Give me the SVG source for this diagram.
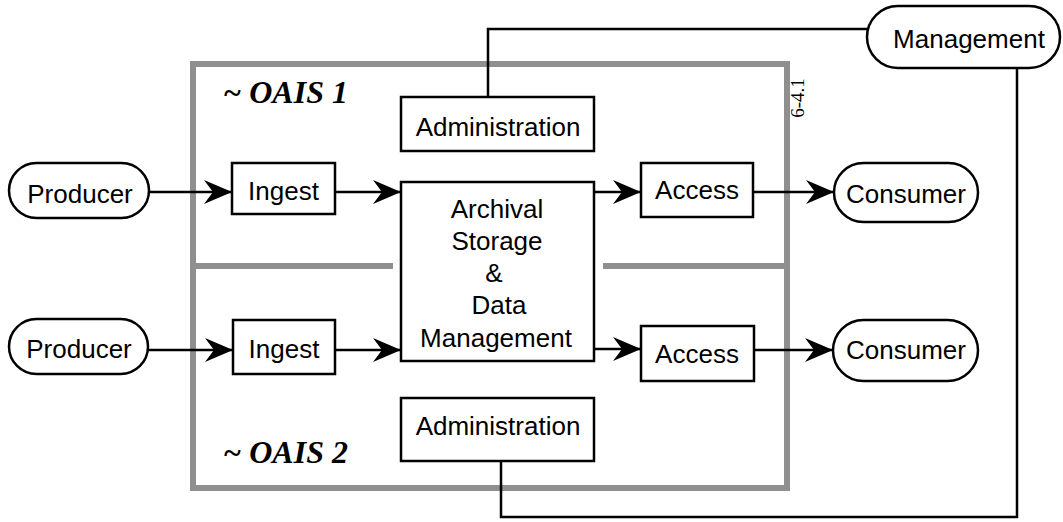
<svg xmlns="http://www.w3.org/2000/svg" width="1063" height="522" viewBox="0 0 1063 522">
<defs>
<style>
.box{fill:#fff;stroke:#000;stroke-width:2.5}
.t{font-family:"Liberation Sans",Arial,sans-serif;font-size:26px;fill:#000;text-anchor:middle}
.oais{font-family:"Liberation Serif","Times New Roman",serif;font-size:32px;font-weight:bold;font-style:italic;fill:#000}
.frame{fill:none;stroke:#8f8f8f;stroke-width:6}
.c{fill:none;stroke:#000;stroke-width:2.5}
.a{marker-end:url(#arr)}
</style>
<marker id="arr" viewBox="0 0 28 24" refX="28" refY="12" markerWidth="28" markerHeight="24" markerUnits="userSpaceOnUse" orient="auto">
<path d="M0,0 L28,12 L0,24 L9,12 Z" fill="#000"/>
</marker>
</defs>
<rect width="1063" height="522" fill="#fff"/>
<g id="frame">
<rect class="frame" x="193" y="64" width="594" height="424"/>
<line class="frame" x1="196" y1="266" x2="393" y2="266"/>
<line class="frame" x1="603" y1="266" x2="784" y2="266"/>
<text class="oais" x="223" y="103">~ OAIS 1</text>
<text class="oais" x="223" y="463">~ OAIS 2</text>
<text x="804" y="98" transform="rotate(-90 804 98)" font-family="Liberation Serif,Times New Roman,serif" font-size="19" text-anchor="middle">6-4.1</text>
</g>
<g id="connectors">
<path class="c" d="M870,29 H488 V97"/>
<path class="c" d="M1017,68 V517 H501 V461"/>
<line class="c a" x1="149" y1="192" x2="232" y2="192"/>
<line class="c a" x1="335" y1="192" x2="401" y2="192"/>
<line class="c a" x1="594" y1="192" x2="641" y2="192"/>
<line class="c a" x1="753" y1="192" x2="834" y2="192"/>
<line class="c a" x1="148" y1="350" x2="233" y2="350"/>
<line class="c a" x1="335" y1="350" x2="401" y2="350"/>
<line class="c a" x1="594" y1="349" x2="641" y2="349"/>
<line class="c a" x1="754" y1="350" x2="833" y2="350"/>
</g>
<g id="management">
<rect class="box" x="867" y="6" width="193" height="62" rx="31"/>
<text class="t" x="969" y="48">Management</text>
</g>
<g id="producer1">
<rect class="box" x="9" y="163" width="140" height="55" rx="27.5"/>
<text class="t" x="80" y="203">Producer</text>
</g>
<g id="ingest1">
<rect class="box" x="232" y="163" width="103" height="51"/>
<text class="t" x="283.5" y="200">Ingest</text>
</g>
<g id="administration1">
<rect class="box" x="401" y="97" width="193" height="54"/>
<text class="t" x="498" y="136">Administration</text>
</g>
<g id="archival-storage">
<rect class="box" x="401" y="182" width="193" height="179"/>
<text class="t" x="497" y="218">Archival</text>
<text class="t" x="497" y="250">Storage</text>
<text class="t" x="494" y="282">&amp;</text>
<text class="t" x="499" y="314">Data</text>
<text class="t" x="496" y="347">Management</text>
</g>
<g id="access1">
<rect class="box" x="641" y="163" width="112" height="54"/>
<text class="t" x="697" y="199">Access</text>
</g>
<g id="consumer1">
<rect class="box" x="834" y="163" width="144" height="59" rx="29.5"/>
<text class="t" x="906" y="203">Consumer</text>
</g>
<g id="producer2">
<rect class="box" x="9" y="319" width="139" height="55" rx="27.5"/>
<text class="t" x="79" y="358">Producer</text>
</g>
<g id="ingest2">
<rect class="box" x="233" y="320" width="102" height="54"/>
<text class="t" x="284" y="358">Ingest</text>
</g>
<g id="access2">
<rect class="box" x="641" y="326" width="113" height="55"/>
<text class="t" x="697" y="363">Access</text>
</g>
<g id="consumer2">
<rect class="box" x="833" y="320" width="145" height="61" rx="30.5"/>
<text class="t" x="906" y="359">Consumer</text>
</g>
<g id="administration2">
<rect class="box" x="401" y="398" width="193" height="63"/>
<text class="t" x="498" y="435">Administration</text>
</g>
</svg>
